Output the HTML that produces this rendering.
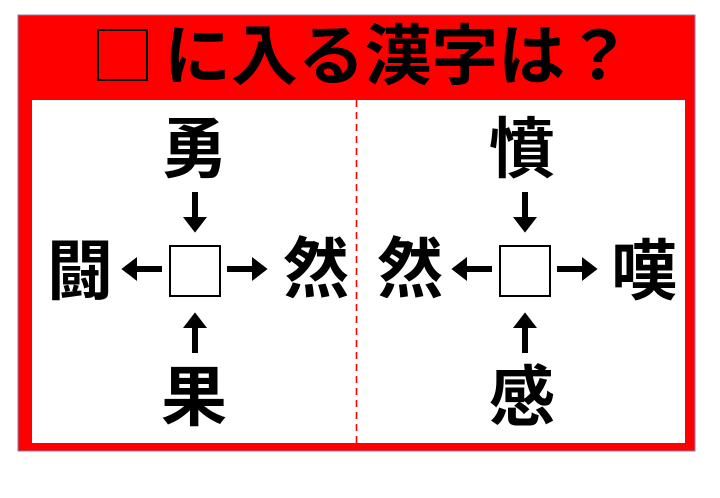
<!DOCTYPE html>
<html><head><meta charset="utf-8"><style>
html,body{margin:0;padding:0;background:#fff;}
svg text{font-family:"Liberation Sans","Noto Sans CJK JP",sans-serif;font-weight:bold;fill:#000;}
</style></head><body>
<svg width="720" height="493" viewBox="0 0 720 493" xmlns="http://www.w3.org/2000/svg">
<defs>
<marker id="a" markerWidth="4" markerHeight="4" refX="2" refY="2" orient="auto" markerUnits="strokeWidth">
<path d="M0,0 L2.6,2 L0,4 Z" fill="#000"/></marker>
</defs>
<rect x="18" y="15" width="677" height="436" fill="#ff0000" stroke="#7f7fb0" stroke-width="1"/>
<rect x="32" y="100" width="653" height="343" fill="#fff"/>
<line x1="356.5" y1="100" x2="356.5" y2="443" stroke="#ff0000" stroke-width="1.6" stroke-dasharray="7,5"/>
<rect x="98" y="30" width="49" height="50" fill="none" stroke="#000" stroke-width="2"/>
<text x="164" y="79" font-size="66" textLength="468" lengthAdjust="spacingAndGlyphs">に入る漢字は？</text>
<g font-size="66" text-anchor="middle">
<text x="194" y="172">勇</text>
<text x="80" y="294">闘</text>
<text x="316" y="292">然</text>
<text x="194" y="420">果</text>
<text x="522" y="172">憤</text>
<text x="410" y="292">然</text>
<text x="644" y="294">嘆</text>
<text x="522" y="420">感</text>
</g>
<g stroke="#000" stroke-width="6" fill="none" marker-end="url(#a)">
<line x1="195" y1="192" x2="195" y2="229"/>
<line x1="195" y1="353" x2="195" y2="316"/>
<line x1="162" y1="269" x2="125" y2="269"/>
<line x1="227" y1="269" x2="264" y2="269"/>
<line x1="525" y1="192" x2="525" y2="229"/>
<line x1="525" y1="353" x2="525" y2="316"/>
<line x1="492" y1="269" x2="455" y2="269"/>
<line x1="557" y1="269" x2="594" y2="269"/>
</g>
<rect x="170" y="246" width="50" height="50" fill="#fff" stroke="#000" stroke-width="2"/>
<rect x="500" y="246" width="50" height="50" fill="#fff" stroke="#000" stroke-width="2"/>
</svg>
</body></html>
